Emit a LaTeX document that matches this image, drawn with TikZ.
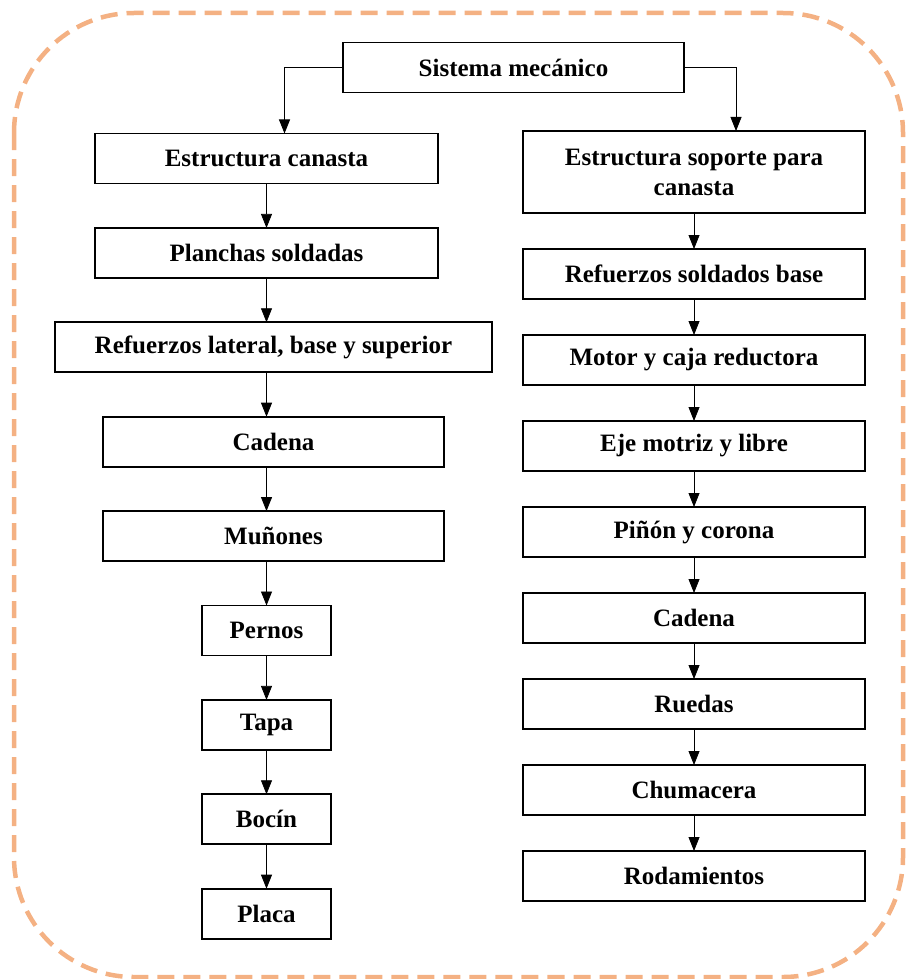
\documentclass[tikz,border=0pt]{standalone}
\usepackage{fontspec}
\setmainfont{Liberation Serif}
\usetikzlibrary{arrows.meta,positioning,calc}
\definecolor{naranja}{RGB}{244,177,131}

\begin{document}
\begin{tikzpicture}[%
    >={Triangle[length=14pt,width=11pt]},   % filled heads as in the chart
    x=1pt, y=1pt,                           % 1pt = 1px of the chart
    node distance=44.4pt                    % left column spacing
    ]

\tikzset{
    base/.style={draw, line width=1.8pt, align=center, inner sep=0pt, outer sep=0pt,
        font={\fontsize{25}{30}\selectfont\bfseries}},
    proc/.style={base, minimum width=343pt, minimum height=50pt},
    ancho/.style={base, minimum width=437pt, minimum height=50pt},
    chico/.style={base, minimum width=129pt, minimum height=50pt},
    der/.style={base, minimum width=342pt, minimum height=50pt},
    fforw/.style={->, line width=0.8pt},
    marco/.style={naranja, line width=4.5pt, dash pattern=on 17pt off 9pt,
        rounded corners=120pt}
}

\useasboundingbox (0,0) rectangle (907,-979);

%% Frame
\draw [marco] (14,-13) rectangle (903,-977);

%% Top
\node [proc, minimum width=341pt] (sys) at (513.5,-67.5) {Sistema mecánico};

%% Left column
\node [proc] (canasta) at (266.5,-158.5) {Estructura canasta};
    \draw [fforw] (sys.west) -| ([xshift=18pt]canasta.north);
\node [proc, below=of canasta] (planchas) {Planchas soldadas};
    \draw [fforw] (canasta.south) -- (planchas.north);
\node [ancho, below=of planchas, xshift=7pt] (reflat) {Refuerzos lateral, base y superior};
    \draw [fforw] (planchas.south) -- (planchas.south |- reflat.north);
\node [proc, minimum width=341pt, below=of reflat] (cadL) {Cadena};
    \draw [fforw] (reflat.south -| canasta) -- (cadL.north -| canasta);
\node [proc, minimum width=341pt, below=of cadL] (munones) {Muñones};
    \draw [fforw] (cadL.south -| canasta) -- (munones.north -| canasta);
\node [chico, below=of munones, xshift=-7pt] (pernos) {Pernos};
    \draw [fforw] (munones.south -| pernos) -- (pernos.north);
\node [chico, below=of pernos] (tapa) {Tapa};
    \draw [fforw] (pernos) -- (tapa);
\node [chico, below=of tapa] (bocin) {Bocín};
    \draw [fforw] (tapa) -- (bocin);
\node [chico, below=of bocin] (placa) {Placa};
    \draw [fforw] (bocin) -- (placa);

%% Right column
\node [der, minimum height=82pt] (soporte) at (694,-172) {Estructura soporte para\\canasta};
    \draw [fforw] (sys.east) -| ([xshift=42pt]soporte.north);
\node [der, below=36pt of soporte] (refsold) {Refuerzos soldados base};
    \draw [fforw] (soporte) -- (refsold);
\node [der, below=36pt of refsold] (motor) {Motor y caja reductora};
    \draw [fforw] (refsold) -- (motor);
\node [der, below=36pt of motor] (eje) {Eje motriz y libre};
    \draw [fforw] (motor) -- (eje);
\node [der, below=36pt of eje] (pinon) {Piñón y corona};
    \draw [fforw] (eje) -- (pinon);
\node [der, below=36pt of pinon] (cadR) {Cadena};
    \draw [fforw] (pinon) -- (cadR);
\node [der, below=36pt of cadR] (ruedas) {Ruedas};
    \draw [fforw] (cadR) -- (ruedas);
\node [der, below=36pt of ruedas] (chuma) {Chumacera};
    \draw [fforw] (ruedas) -- (chuma);
\node [der, below=36pt of chuma] (rodam) {Rodamientos};
    \draw [fforw] (chuma) -- (rodam);
\end{tikzpicture}
\end{document}
